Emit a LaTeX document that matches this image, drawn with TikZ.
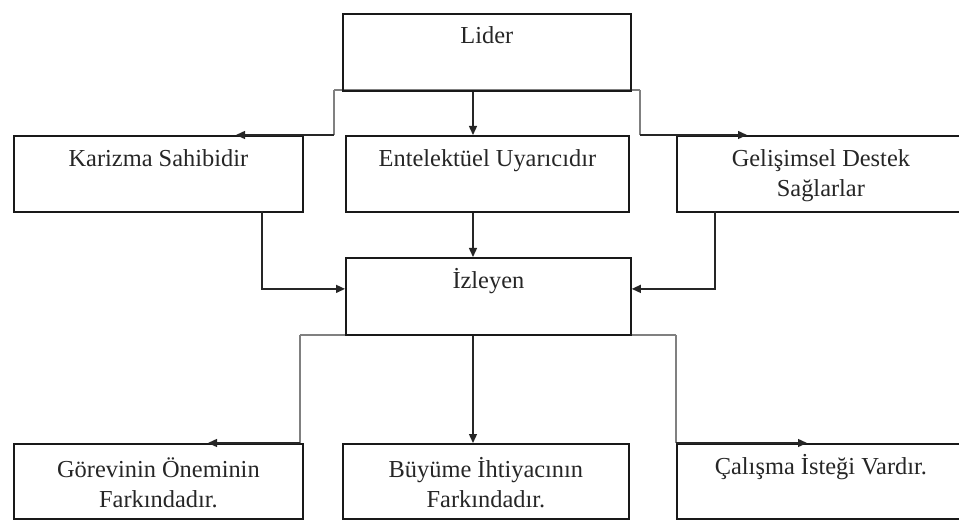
\documentclass[tikz,border=0pt]{standalone}
\usepackage{fontspec}
\setmainfont{Liberation Serif}
\usetikzlibrary{arrows.meta}
\begin{document}
\begin{tikzpicture}[x=1pt,y=-1pt,
  box/.style={draw=black!90,line width=1.8pt,inner sep=0pt,anchor=north west},
  lbl/.style={font=\fontsize{24.4}{30}\selectfont,align=center,anchor=base,inner sep=0pt,text=black!85},
  conn/.style={draw=black!85,line width=1.4pt},
  branch/.style={draw=black!50,line width=1.6pt},
  arr/.style={conn,-{Triangle[length=9pt,width=8pt]}}]
\useasboundingbox (0,0) rectangle (959,521);

% branch lines under Lider and İzleyen (drawn first, box edges sit on top)
\coordinate (lL) at (334,90);
\coordinate (lR) at (640,90);
\coordinate (iL) at (300,335);
\coordinate (iR) at (676,335);
\draw[branch] (lL) -- (lR);
\draw[branch] (iL) -- (iR);

% boxes (top-left corners)
\node[box,minimum width=288pt,minimum height=77pt] (lider) at (342,13) {};
\node[box,minimum width=289pt,minimum height=76pt] (kar) at (13,135) {};
\node[box,minimum width=283pt,minimum height=76pt] (ent) at (345,135) {};
\node[box,minimum width=288pt,minimum height=76pt] (gel) at (676,135) {};
\node[box,minimum width=285pt,minimum height=77pt] (izl) at (345,257) {};
\node[box,minimum width=289pt,minimum height=75pt] (gor) at (13,443) {};
\node[box,minimum width=286pt,minimum height=75pt] (buy) at (342,443) {};
\node[box,minimum width=288pt,minimum height=75pt] (cal) at (676,443) {};

% labels (base anchor sits on the last line)
\node[lbl] at ([yshift=-31pt]lider.north) {Lider};
\node[lbl] at ([yshift=-32pt]kar.north) {Karizma Sahibidir};
\node[lbl] at ([yshift=-32pt]ent.north) {Entelektüel Uyarıcıdır};
\node[lbl] at ([yshift=-62pt]gel.north) {Gelişimsel Destek\\Sağlarlar};
\node[lbl] at ([yshift=-32pt]izl.north) {İzleyen};
\node[lbl] at ([yshift=-64pt]gor.north) {Görevinin Öneminin\\Farkındadır.};
\node[lbl] at ([yshift=-64pt]buy.north) {Büyüme İhtiyacının\\Farkındadır.};
\node[lbl] at ([yshift=-31pt]cal.north) {Çalışma İsteği Vardır.};

% free ends of the side arrows
\coordinate (kTip) at (236,135);
\coordinate (gTip) at (747,135);
\coordinate (gorTip) at (208,443);
\coordinate (calTip) at (807,443);
% vertical trunk
\coordinate (mid) at (473,0);

% Lider -> second row
\draw[branch] (lL) -- (lL |- kar.north);
\draw[branch] (lR) -- (lR |- gel.north);
\draw[arr] (lL |- kar.north) -- (kTip);
\draw[arr] (lR |- gel.north) -- (gTip);
\draw[arr] (mid |- lider.south) -- (mid |- ent.north);

% second row -> İzleyen
\draw[arr] (262,211) |- ([yshift=7.5pt]izl.west);
\draw[arr] (715,211) |- ([yshift=7.5pt]izl.east);
\draw[arr] (mid |- ent.south) -- (mid |- izl.north);

% İzleyen -> bottom row
\draw[branch] (iL) -- (iL |- gor.north);
\draw[branch] (iR) -- (iR |- cal.north);
\draw[arr] (iL |- gor.north) -- (gorTip);
\draw[arr] (iR |- cal.north) -- (calTip);
\draw[arr] (mid |- izl.south) -- (mid |- buy.north);
\end{tikzpicture}
\end{document}
